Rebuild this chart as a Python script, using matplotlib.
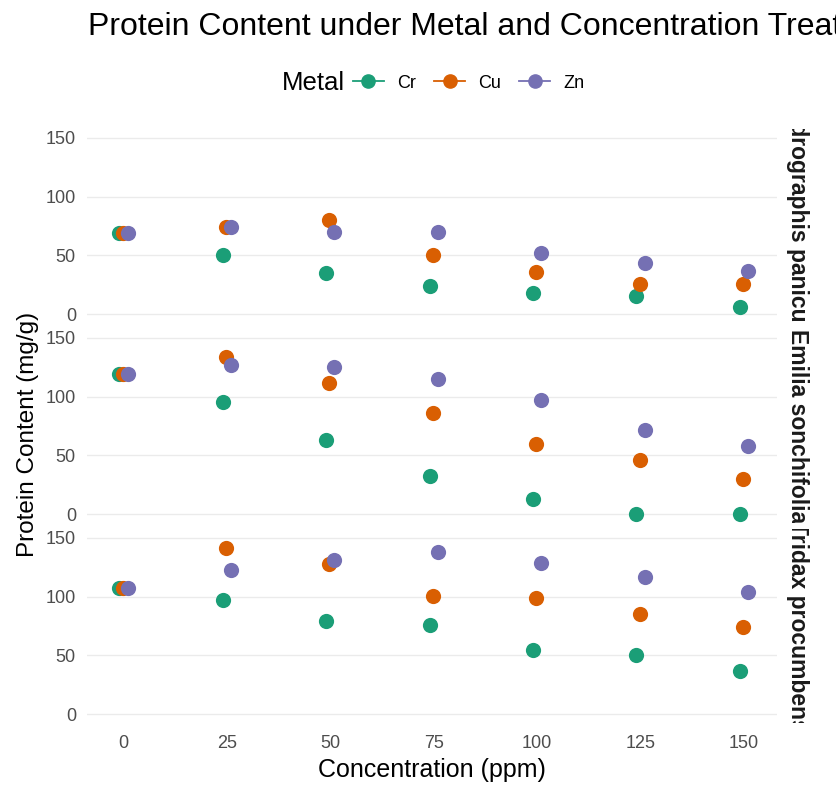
import matplotlib
matplotlib.use("Agg")
import matplotlib.pyplot as plt
from matplotlib.lines import Line2D
from matplotlib.transforms import Bbox, TransformedBbox

plt.rcParams['font.family'] = ['Liberation Sans', 'DejaVu Sans']

# ---- data ----
concentration = [0, 25, 50, 75, 100, 125, 150]
metals = ["Cr", "Cu", "Zn"]
species = ["Andrographis paniculata", "Emilia sonchifolia", "Tridax procumbens"]

andrographis_cr = [69, 50, 35, 24, 17.6, 15.3, 5.7]
andrographis_cu = [69, 74.5, 80, 50, 35.5, 25.6, 25.3]
andrographis_zn = [69, 74.5, 70, 70, 51.7, 43.7, 36.9]

emilia_cr = [119, 95.3, 63.4, 32.5, 12.5, 0, 0]
emilia_cu = [119, 134, 111.8, 86, 60, 46.4, 30.3]
emilia_zn = [119, 127, 125, 115.2, 97.4, 71.3, 58]

tridax_cr = [107.2, 97.4, 79.3, 75.9, 55, 50, 36.8]
tridax_cu = [107.2, 141.5, 128, 100.5, 99, 85.5, 74]
tridax_zn = [107.2, 123, 131.3, 138, 128.5, 117, 104]

data = {
    "Andrographis paniculata": {"Cr": andrographis_cr, "Cu": andrographis_cu, "Zn": andrographis_zn},
    "Emilia sonchifolia": {"Cr": emilia_cr, "Cu": emilia_cu, "Zn": emilia_zn},
    "Tridax procumbens": {"Cr": tridax_cr, "Cu": tridax_cu, "Zn": tridax_zn},
}

colors = {"Cr": "#1B9E77", "Cu": "#D95F02", "Zn": "#7570B3"}
offsets = {"Cr": -1.0, "Cu": -0.2, "Zn": 1.0}   # small dodge (ppm units)

W, H = 837, 787
fig = plt.figure(figsize=(W / 100, H / 100), dpi=100)

def fy(py):
    return 1 - py / H

gs = fig.add_gridspec(3, 1, left=87 / W, right=777 / W, top=fy(129), bottom=fy(723), hspace=0.031)

tick_color = "#4D4D4D"
for i, sp in enumerate(species):
    ax = fig.add_subplot(gs[i, 0])
    for m in metals:
        xs = [c + offsets[m] for c in concentration]
        ax.scatter(xs, data[sp][m], s=120, color=colors[m], linewidths=0, zorder=3)
    ax.set_xlim(-8.8, 158.0)
    ax.set_ylim(-7.5, 157.5)
    ax.set_yticks([0, 50, 100, 150])
    ax.set_xticks(concentration)
    ax.grid(axis="y", color="#EBEBEB", linewidth=1.0, zorder=0)
    ax.set_axisbelow(True)
    for s in ax.spines.values():
        s.set_visible(False)
    ax.tick_params(axis="both", length=0, labelsize=13, labelcolor=tick_color)
    ax.tick_params(axis="y", pad=8)
    ax.tick_params(axis="x", pad=9)
    if i < 2:
        ax.tick_params(axis="x", labelbottom=False)
    t = ax.text(1.0 + 21 / 690, 0.5, sp, rotation=-90, transform=ax.transAxes,
                ha="center", va="center", fontsize=16.5, fontweight="bold",
                color="#1A1A1A", clip_on=True)
    t.set_clip_box(TransformedBbox(Bbox([[1.0, 0.0], [1.2, 1.0]]), ax.transAxes))

fig.text(88 / W, fy(27), "Protein Content under Metal and Concentration Treatments",
         ha="left", va="center", fontsize=23, color="black")

fig.text(282 / W, fy(83), "Metal", ha="left", va="center", fontsize=18.5, color="black")
handles = [Line2D([], [], color=colors[m], marker="o", markersize=9.5, lw=1.3) for m in metals]
fig.legend(handles, metals, loc="center left", bbox_to_anchor=(353 / W, fy(83)), ncol=3,
           frameon=False, fontsize=13, handlelength=1.7, handletextpad=0.75,
           columnspacing=1.0, borderpad=0, borderaxespad=0)

fig.text(432 / W, fy(770), "Concentration (ppm)", ha="center", va="center", fontsize=18, color="black")
fig.text(28 / W, fy(434), "Protein Content (mg/g)", ha="center", va="center", rotation=90,
         fontsize=17.5, color="black")

fig.savefig("out.png", dpi=100)
